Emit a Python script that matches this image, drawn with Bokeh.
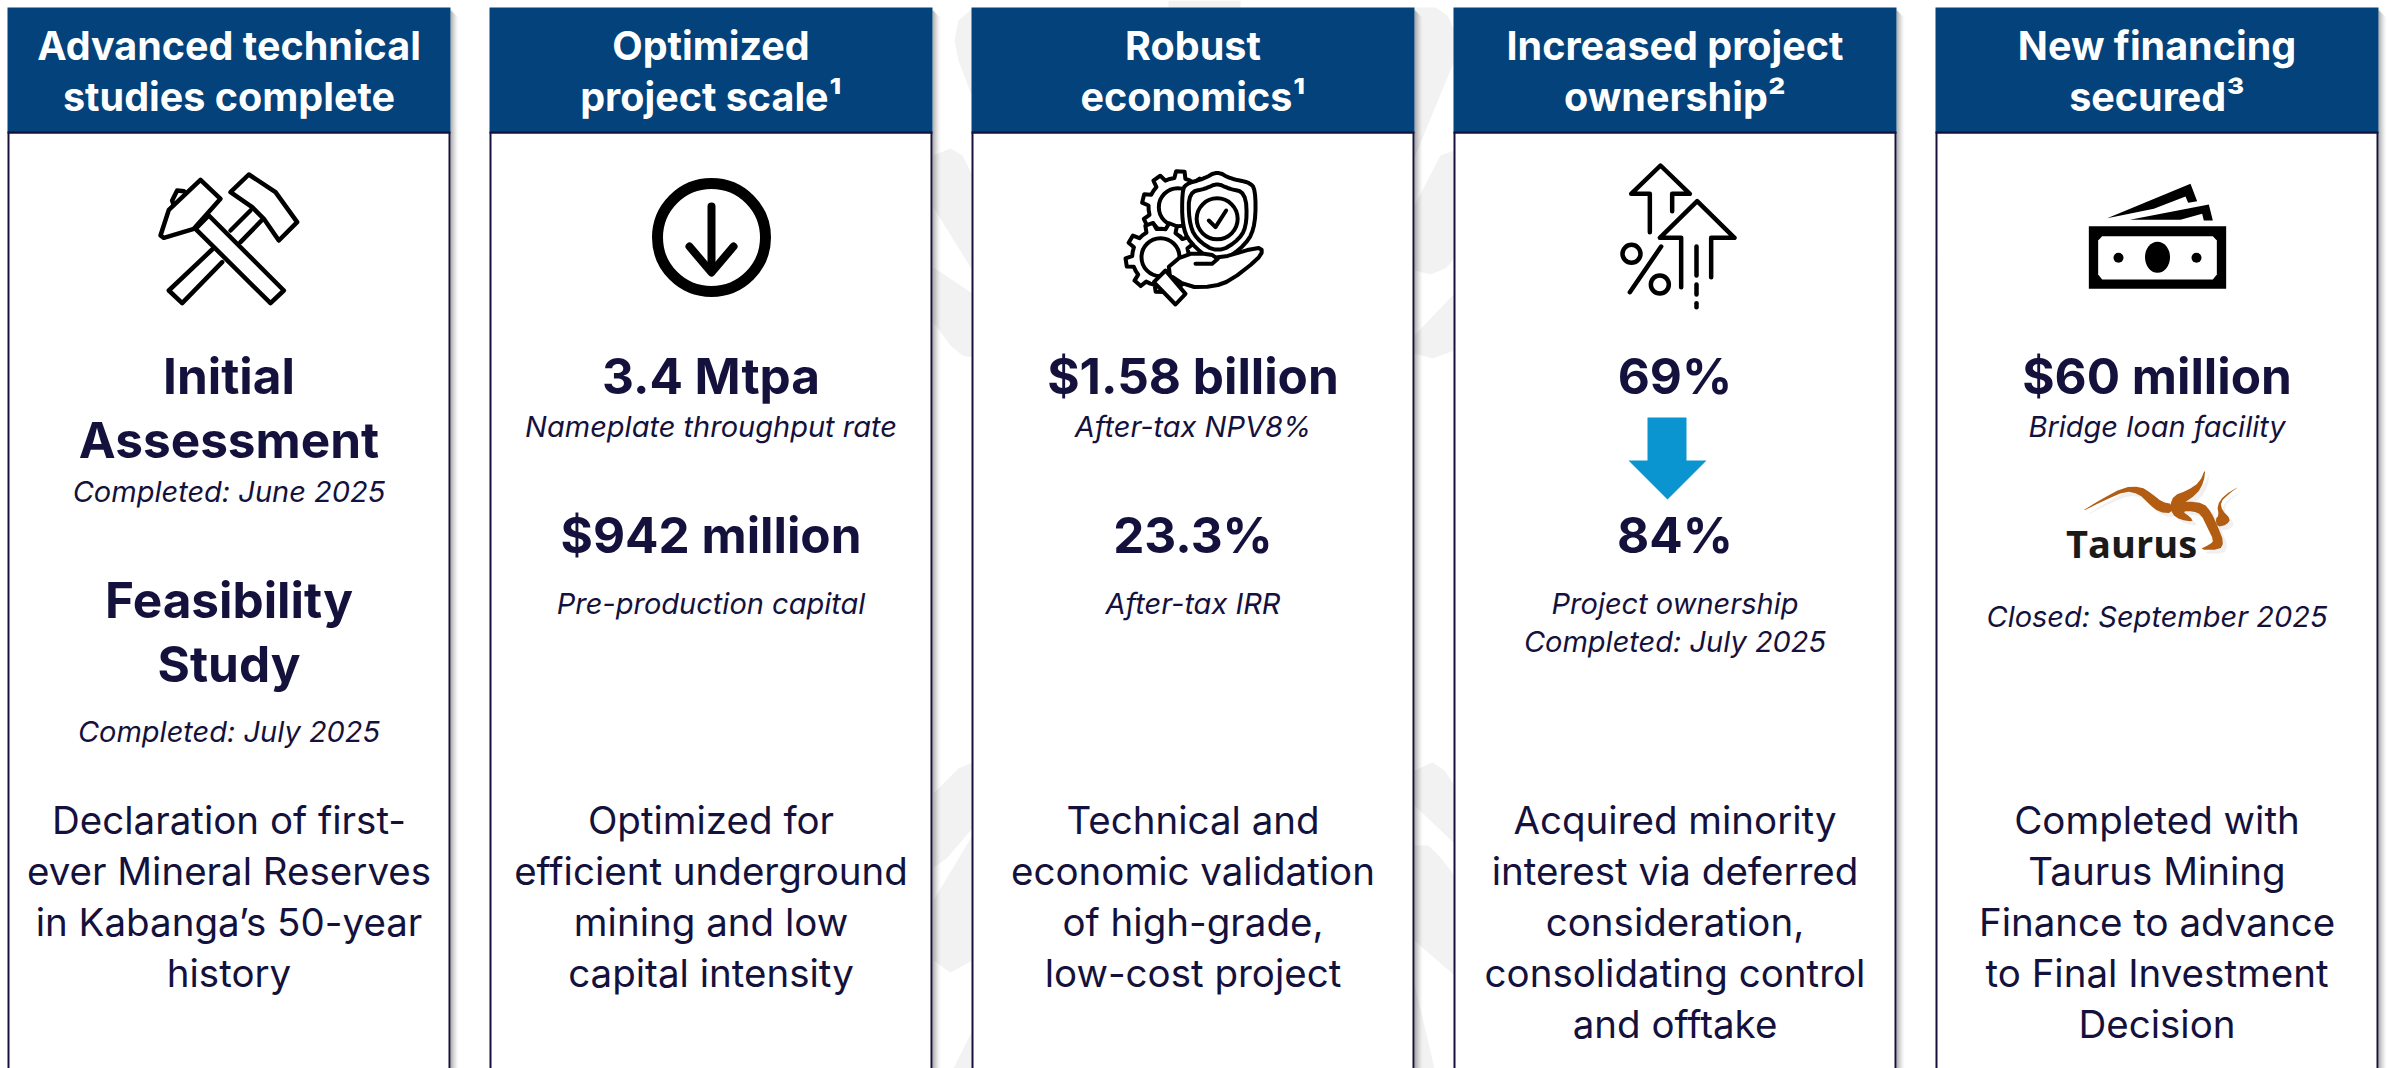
import numpy as np
from bokeh.plotting import figure
from bokeh.core.properties import value
from bokeh.embed import file_html
from bokeh.resources import INLINE

# ---------- content ----------
header_line1 = ["Advanced technical", "Optimized", "Robust", "Increased project", "New financing"]
header_line2 = ["studies complete", "project scale¹", "economics¹", "ownership²", "secured³"]

metric_top = ["3.4 Mtpa", "$1.58 billion", "69%", "$60 million"]
metric_top_note = ["Nameplate throughput rate", "After-tax NPV8%", "Bridge loan facility"]
metric_second = ["$942 million", "23.3%", "84%"]
metric_second_note = ["Pre-production capital", "After-tax IRR", "Project ownership"]

study_titles = ["Initial", "Assessment", "Feasibility", "Study"]
study_dates = ["Completed: June 2025", "Completed: July 2025"]
ownership_date = "Completed: July 2025"
closing_date = "Closed: September 2025"
lender_name = "Taurus"

body_text = [
    ["Declaration of first-", "ever Mineral Reserves", "in Kabanga’s 50-year", "history"],
    ["Optimized for", "efficient underground", "mining and low", "capital intensity"],
    ["Technical and", "economic validation", "of high-grade,", "low-cost project"],
    ["Acquired minority", "interest via deferred", "consideration,", "consolidating control", "and offtake"],
    ["Completed with", "Taurus Mining", "Finance to advance", "to Final Investment", "Decision"],
]

# ---------- style ----------
FONT = "Inter"
NAVY = "#14123C"
BLUE = "#03427A"
W, H = 2387, 1068
BASE_SHIFT = 0.39

p = figure(width=W, height=H, x_range=(0, W), y_range=(H, 0), toolbar_location=None,
           output_backend="svg", x_axis_location=None, y_axis_location=None,
           min_border=0, outline_line_color=None, background_fill_color="white",
           border_fill_color="white",
           styles={"position": "absolute", "left": "0px", "top": "0px"})
p.grid.visible = False


def smooth(pts, n=2, closed=True):
    a = np.array(pts, float)
    for _ in range(n):
        b = np.roll(a, -1, axis=0) if closed else a[1:]
        s = a if closed else a[:-1]
        q = 0.75 * s + 0.25 * b
        r = 0.25 * s + 0.75 * b
        a = np.empty((2 * len(s), 2))
        a[0::2] = q
        a[1::2] = r
    return a


def place(pts, ox, oy, s=3.0):
    a = np.array(pts, float)
    return ox + a[:, 0] / s, oy + a[:, 1] / s


def txt(x, y, t, size, style="normal", color=NAVY, font=FONT):
    p.text([x], [y + 2.5 - BASE_SHIFT * size], text=[t], text_font=value(font), text_font_size=f"{size}px",
           text_font_style=style, text_color=color, text_align="center", text_baseline="alphabetic")


# ---------- watermark behind the cards ----------
WM = "#F2F2F2"
watermark = [
    [(1168, 0), (1240, 0), (1240, 8), (1168, 8)],
    [(972, 8), (958, 20), (954, 40), (958, 60), (972, 97)],
    [(933, 155), (950, 148), (962, 155), (972, 175), (972, 270), (933, 207)],
    [(933, 267), (972, 293), (972, 357), (962, 355), (950, 345), (933, 322)],
    [(1414, 7), (1435, 7), (1447, 15), (1454, 30), (1454, 60), (1414, 157)],
    [(1454, 150), (1440, 155), (1414, 205), (1414, 270), (1430, 274), (1445, 268), (1454, 258)],
    [(1414, 335), (1454, 293), (1454, 350), (1432, 358), (1414, 353)],
    [(972, 762), (958, 768), (933, 793), (933, 867), (946, 858), (972, 828)],
    [(972, 835), (933, 900), (933, 960), (950, 972), (972, 960)],
    [(972, 1030), (953, 1068), (972, 1068)],
    [(1414, 770), (1432, 762), (1444, 770), (1454, 785), (1454, 843), (1414, 805)],
    [(1414, 845), (1428, 845), (1440, 857), (1454, 875), (1454, 975), (1414, 940)],
    [(1414, 983), (1434, 1068), (1414, 1068)],
]
for poly in watermark:
    a = np.array(poly, float)
    p.patch(a[:, 0], a[:, 1], fill_color=WM, line_color=None)

# ---------- cards ----------
card_left = [7, 489, 971, 1453, 1935]
card_w = 443
head_top, head_bot = 7, 132
centres = [l + card_w / 2 for l in card_left]
shadow_alpha = [0.42, 0.34, 0.27, 0.20, 0.14, 0.09, 0.05, 0.02]
for l in card_left:
    r = l + card_w
    for i, al in enumerate(shadow_alpha):
        p.quad(left=r + i, right=r + i + 1, top=head_top + 3 + i, bottom=H, fill_color="#333333",
               fill_alpha=al, line_color=None)
    p.quad(left=l + 1, right=r - 1, top=head_bot, bottom=H + 4, fill_color="white",
           line_color=NAVY, line_width=2)
    p.quad(left=l, right=r, top=head_top, bottom=head_bot, fill_color=BLUE, line_color=None)
    p.line([l, r], [head_bot, head_bot], line_color=NAVY, line_width=2)

# ---------- header text ----------
HEAD, BIG, NOTE, BODY = 39.5, 49.5, 29, 38.5
for cx, a, b in zip(centres, header_line1, header_line2):
    txt(cx, 58, a, HEAD, "bold", "white")
    txt(cx, 109, b, HEAD, "bold", "white")

# ---------- metrics ----------
y_title = [392, 456, 616, 680]
for t, y in zip(study_titles, y_title):
    txt(centres[0], y, t, BIG, "bold")
txt(centres[0], 500, study_dates[0], NOTE, "italic")
txt(centres[0], 740, study_dates[1], NOTE, "italic")

for c, t in zip([1, 2, 3, 4], metric_top):
    txt(centres[c], 392, t, BIG, "bold")
for c, t in zip([1, 2, 4], metric_top_note):
    txt(centres[c], 435, t, NOTE, "italic")
for c, t in zip([1, 2, 3], metric_second):
    txt(centres[c], 551, t, BIG, "bold")
for c, t in zip([1, 2, 3], metric_second_note):
    txt(centres[c], 612, t, NOTE, "italic")
txt(centres[3], 650, ownership_date, NOTE, "italic")
txt(centres[4], 625, closing_date, NOTE, "italic")

# ---------- body ----------
body_base = [832, 883, 934, 985, 1036]
for cx, lines in zip(centres, body_text):
    for y, t in zip(body_base, lines):
        txt(cx, y, t, BODY)

# ---------- ownership arrow ----------
arrow = [(1647, 417), (1686, 417), (1686, 460), (1706, 460), (1667, 499), (1628, 460), (1647, 460)]
a = np.array(arrow, float)
p.patch(a[:, 0], a[:, 1], fill_color="#0A95D0", line_color=None)

INK = "black"


def stroke(pts, ox, oy, lw=4.5, fill=None, closed=False, sm=0):
    q = smooth(pts, sm, closed) if sm else np.array(pts, float)
    x, y = place(q, ox, oy)
    if closed:
        p.patch(x, y, fill_color=fill if fill else "white", fill_alpha=1 if fill else 0,
                line_color=INK, line_width=lw, line_join="round")
    else:
        p.line(x, y, line_color=INK, line_width=lw, line_join="round", line_cap="round")


# ---------- icon 1: hammers ----------
ox, oy = 130, 150
stroke([(360, 180), (300, 240)], ox, oy)
stroke([(245, 297), (115, 420), (155, 458), (275, 335)], ox, oy)
stroke([(330, 275), (393, 210)], ox, oy)
stroke([(355, 72), (435, 125), (500, 215), (445, 270), (400, 205), (365, 170), (300, 125)], ox, oy, fill="white", closed=True)
stroke([(125, 150), (140, 120), (160, 122), (170, 135), (130, 165)], ox, oy, fill="white", closed=True)
stroke([(195, 235), (235, 195), (460, 420), (420, 458)], ox, oy, fill="white", closed=True)
stroke([(210, 88), (270, 145), (190, 235), (100, 262), (90, 255), (115, 178)], ox, oy, fill="white", closed=True)

# ---------- icon 2: circled arrow ----------
p.circle([711], [237], radius=54, fill_color="white", line_color=INK, line_width=11)
p.line([711, 711], [206, 270], line_color=INK, line_width=8, line_cap="round")
p.line([689, 711, 733], [246, 272, 246], line_color=INK, line_width=8, line_cap="round", line_join="round")

# ---------- icon 3: gears, shield, hand ----------
ox, oy = 1100, 150


def gear(cx, cy, r0, r1, n, start):
    pts = []
    for i in range(n):
        t = start + i * 2 * np.pi / n
        d = 2 * np.pi / n
        for f, r in [(-0.5, r0), (-0.27, r0), (-0.17, r1), (0.17, r1), (0.27, r0)]:
            pts.append((cx + r * np.cos(t + f * d), cy + r * np.sin(t + f * d)))
    return pts


stroke(gear(232, 170, 88, 108, 9, -1.5), ox, oy, fill="white", closed=True, lw=4)
p.circle([1100 + 232 / 3], [150 + 170 / 3], radius=19, fill_color="white", line_color=INK, line_width=4)
stroke(gear(180, 320, 85, 105, 9, -1.9), ox, oy, fill="white", closed=True, lw=4)
p.circle([1100 + 180 / 3], [150 + 320 / 3], radius=19, fill_color="white", line_color=INK, line_width=4)
stroke([(350, 62), (390, 85), (445, 95), (465, 115), (465, 220), (440, 280), (350, 345), (265, 275), (245, 220), (245, 125), (255, 100), (310, 85)],
       ox, oy, fill="white", closed=True, sm=2, lw=4)
stroke([(350, 98), (385, 115), (435, 125), (440, 215), (420, 265), (352, 308), (285, 265), (265, 210), (265, 125), (315, 115)],
       ox, oy, closed=True, sm=2, lw=4)
p.circle([1100 + 350 / 3], [150 + 205 / 3], radius=20.5, fill_color="white", line_color=INK, line_width=4)
stroke([(325, 210), (345, 230), (377, 180)], ox, oy, lw=4)
hand = [(190, 362), (250, 310), (330, 310), (352, 325), (470, 290), (488, 300), (470, 328), (390, 390), (340, 408), (262, 410)]
stroke(hand, ox, oy, fill="white", closed=True, sm=1, lw=4)
stroke([(285, 340), (335, 340), (352, 325)], ox, oy, lw=4)
stroke([(160, 395), (195, 360), (255, 430), (225, 462)], ox, oy, fill="white", closed=True, lw=4)

# ---------- icon 4: percent arrows ----------
ox, oy = 1590, 150
stroke([(178, 245), (178, 130), (122, 130), (210, 45), (298, 130), (245, 130), (245, 182)], ox, oy)
stroke([(272, 410), (272, 262), (208, 262), (320, 152), (432, 262), (362, 262), (362, 380)], ox, oy)
stroke([(318, 288), (318, 375)], ox, oy)
stroke([(318, 402), (318, 432)], ox, oy)
stroke([(318, 458), (318, 470)], ox, oy)
stroke([(118, 425), (212, 288)], ox, oy)
p.circle([1590 + 123 / 3, 1590 + 208 / 3], [150 + 310 / 3, 150 + 402 / 3], radius=9,
         fill_color="white", line_color=INK, line_width=4.5)

# ---------- icon 5: banknotes ----------
ox, oy = 2050, 170


def solid(pts, ox, oy, color):
    x, y = place(pts, ox, oy)
    p.patch(x, y, fill_color=color, line_color=None)


solid([(115, 167), (527, 167), (527, 355), (115, 355)], ox, oy, INK)
solid([(155, 197), (487, 197), (499, 210), (499, 312), (487, 327), (155, 327), (143, 312), (143, 210)], ox, oy, "white")
p.ellipse([2050 + 321 / 3], [170 + 260 / 3], width=25, height=31, fill_color=INK, line_color=None)
p.circle([2050 + 204 / 3, 2050 + 438 / 3], [170 + 262 / 3] * 2, radius=5, fill_color=INK, line_color=None)
solid([(170, 143), (420, 40), (440, 92), (413, 97), (405, 78), (310, 115)], ox, oy, INK)
solid([(238, 148), (475, 102), (487, 150), (460, 150), (455, 130), (390, 148)], ox, oy, INK)

# ---------- lender logo ----------
ox, oy = 2040, 450
BROWN = "#B25D12"
swoosh = [
    [(115, 188), (175, 150), (250, 110), (300, 108), (335, 130), (365, 155), (395, 160), (395, 188), (355, 185), (325, 160), (295, 130), (255, 122), (190, 150)],
    [(495, 52), (478, 95), (440, 120), (400, 135), (388, 165), (395, 188), (420, 165), (470, 130), (490, 95)],
    [(390, 158), (440, 152), (490, 158), (512, 185), (532, 228), (550, 275), (538, 298), (475, 298), (508, 282), (520, 270), (500, 230), (482, 192), (458, 182), (425, 182), (450, 200), (458, 214), (420, 208), (395, 192)],
    [(600, 105), (565, 130), (540, 155), (545, 180), (570, 205), (560, 222), (530, 230), (525, 205), (535, 195), (530, 165), (550, 135)],
]
for poly in swoosh:
    x, y = place(smooth(poly, 1), ox + 4, oy + 4)
    p.patch(x, y, fill_color="#000000", fill_alpha=0.06, line_color=None)
for poly in swoosh:
    x, y = place(smooth(poly, 1), ox, oy)
    p.patch(x, y, fill_color=BROWN, line_color=None)
txt(2131, 555, lender_name, 38, "bold", "#1A1A1A", "Open Sans")

open("out.html", "w").write(file_html(p, INLINE))
